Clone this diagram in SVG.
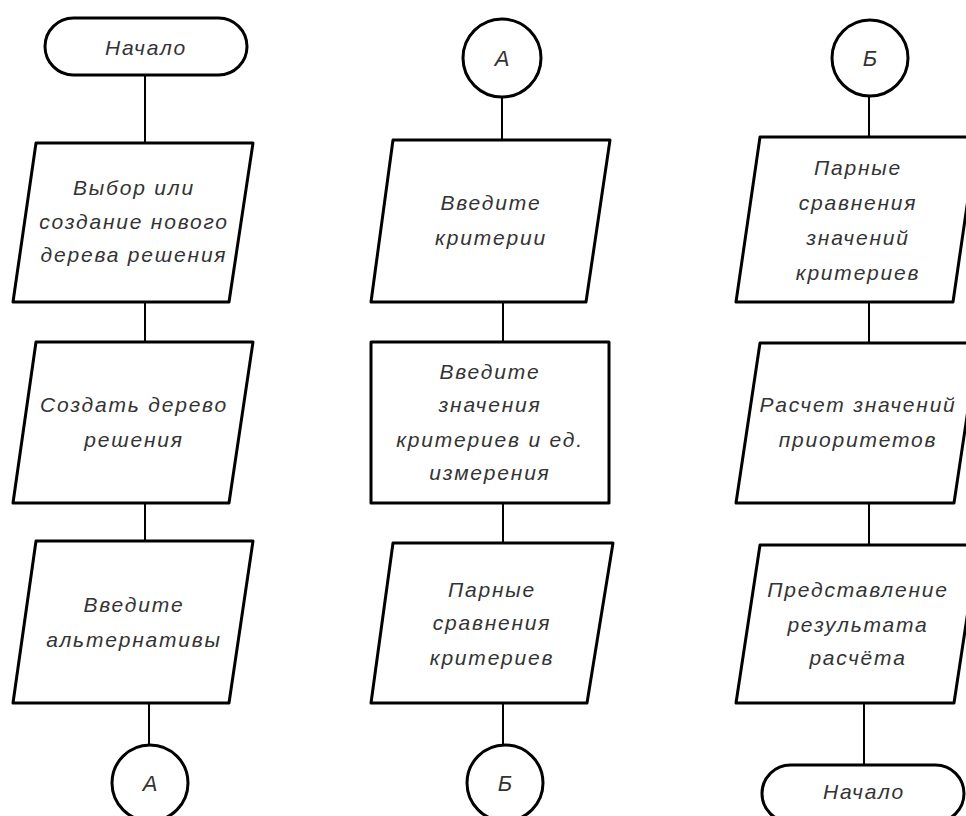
<svg xmlns="http://www.w3.org/2000/svg" width="966" height="816" viewBox="0 0 966 816">
<style>
.s{fill:#fff;stroke:#000;stroke-width:3;stroke-linejoin:round}
.c{fill:none;stroke:#000;stroke-width:2}
text{font-family:"Liberation Sans",Arial,sans-serif;font-style:italic;font-size:21px;letter-spacing:1.8px;fill:#333;text-anchor:middle}
.l{font-size:22px;letter-spacing:0}
</style>
<rect width="966" height="816" fill="#fff"/>
<g id="connectors">
<line class="c" x1="145" y1="75" x2="145" y2="143"/>
<line class="c" x1="145" y1="302" x2="145" y2="342"/>
<line class="c" x1="145" y1="503" x2="145" y2="541"/>
<line class="c" x1="149" y1="703" x2="149" y2="745"/>
<line class="c" x1="502" y1="97" x2="502" y2="140"/>
<line class="c" x1="503" y1="302" x2="503" y2="342"/>
<line class="c" x1="503" y1="503" x2="503" y2="543"/>
<line class="c" x1="503" y1="703" x2="503" y2="745"/>
<line class="c" x1="869" y1="97" x2="869" y2="137"/>
<line class="c" x1="869" y1="302" x2="869" y2="343"/>
<line class="c" x1="869" y1="503" x2="869" y2="545"/>
<line class="c" x1="864" y1="703" x2="864" y2="765"/>
</g>
<g id="start">
<rect class="s" x="45" y="18" width="202" height="57" rx="28.5"/>
<text x="146" y="55">Начало</text>
</g>
<g id="choose">
<polygon class="s" points="36,143 253,143 229,302 13,302"/>
<text x="134" y="195">Выбор или</text>
<text x="134" y="229">создание нового</text>
<text x="134" y="262">дерева решения</text>
</g>
<g id="create">
<polygon class="s" points="36,342 253,342 229,503 13,503"/>
<text x="134" y="412">Создать дерево</text>
<text x="134" y="447">решения</text>
</g>
<g id="alternatives">
<polygon class="s" points="36,541 253,541 229,703 13,703"/>
<text x="134" y="612">Введите</text>
<text x="134" y="647">альтернативы</text>
</g>
<g id="conA1">
<circle class="s" cx="150" cy="783" r="38"/>
<text class="l" x="150" y="791">А</text>
</g>
<g id="conA2">
<circle class="s" cx="502" cy="58" r="39"/>
<text class="l" x="502" y="66">А</text>
</g>
<g id="criteria">
<polygon class="s" points="393,140 610,140 586,302 371,302"/>
<text x="491" y="210">Введите</text>
<text x="491" y="245">критерии</text>
</g>
<g id="values">
<rect class="s" x="371" y="342" width="238" height="161"/>
<text x="490" y="379">Введите</text>
<text x="490" y="412">значения</text>
<text x="490" y="447">критериев и ед.</text>
<text x="490" y="480">измерения</text>
</g>
<g id="pairs">
<polygon class="s" points="393,543 613,543 587,703 371,703"/>
<text x="492" y="597">Парные</text>
<text x="492" y="630">сравнения</text>
<text x="492" y="665">критериев</text>
</g>
<g id="conB1">
<circle class="s" cx="505" cy="783" r="38"/>
<text class="l" x="505" y="791">Б</text>
</g>
<g id="conB2">
<circle class="s" cx="870" cy="58" r="38"/>
<text class="l" x="870" y="66">Б</text>
</g>
<g id="pairvalues">
<polygon class="s" points="760,137 977,137 953,302 736,302"/>
<text x="858" y="175">Парные</text>
<text x="858" y="210">сравнения</text>
<text x="858" y="245">значений</text>
<text x="858" y="280">критериев</text>
</g>
<g id="priorities">
<polygon class="s" points="760,343 978,343 954,503 736,503"/>
<text x="858" y="412">Расчет значений</text>
<text x="858" y="447">приоритетов</text>
</g>
<g id="result">
<polygon class="s" points="760,545 978,545 954,703 736,703"/>
<text x="858" y="597">Представление</text>
<text x="858" y="632">результата</text>
<text x="858" y="665">расчёта</text>
</g>
<g id="end">
<rect class="s" x="762" y="765" width="202" height="57" rx="28.5"/>
<text x="864" y="799">Начало</text>
</g>
</svg>
